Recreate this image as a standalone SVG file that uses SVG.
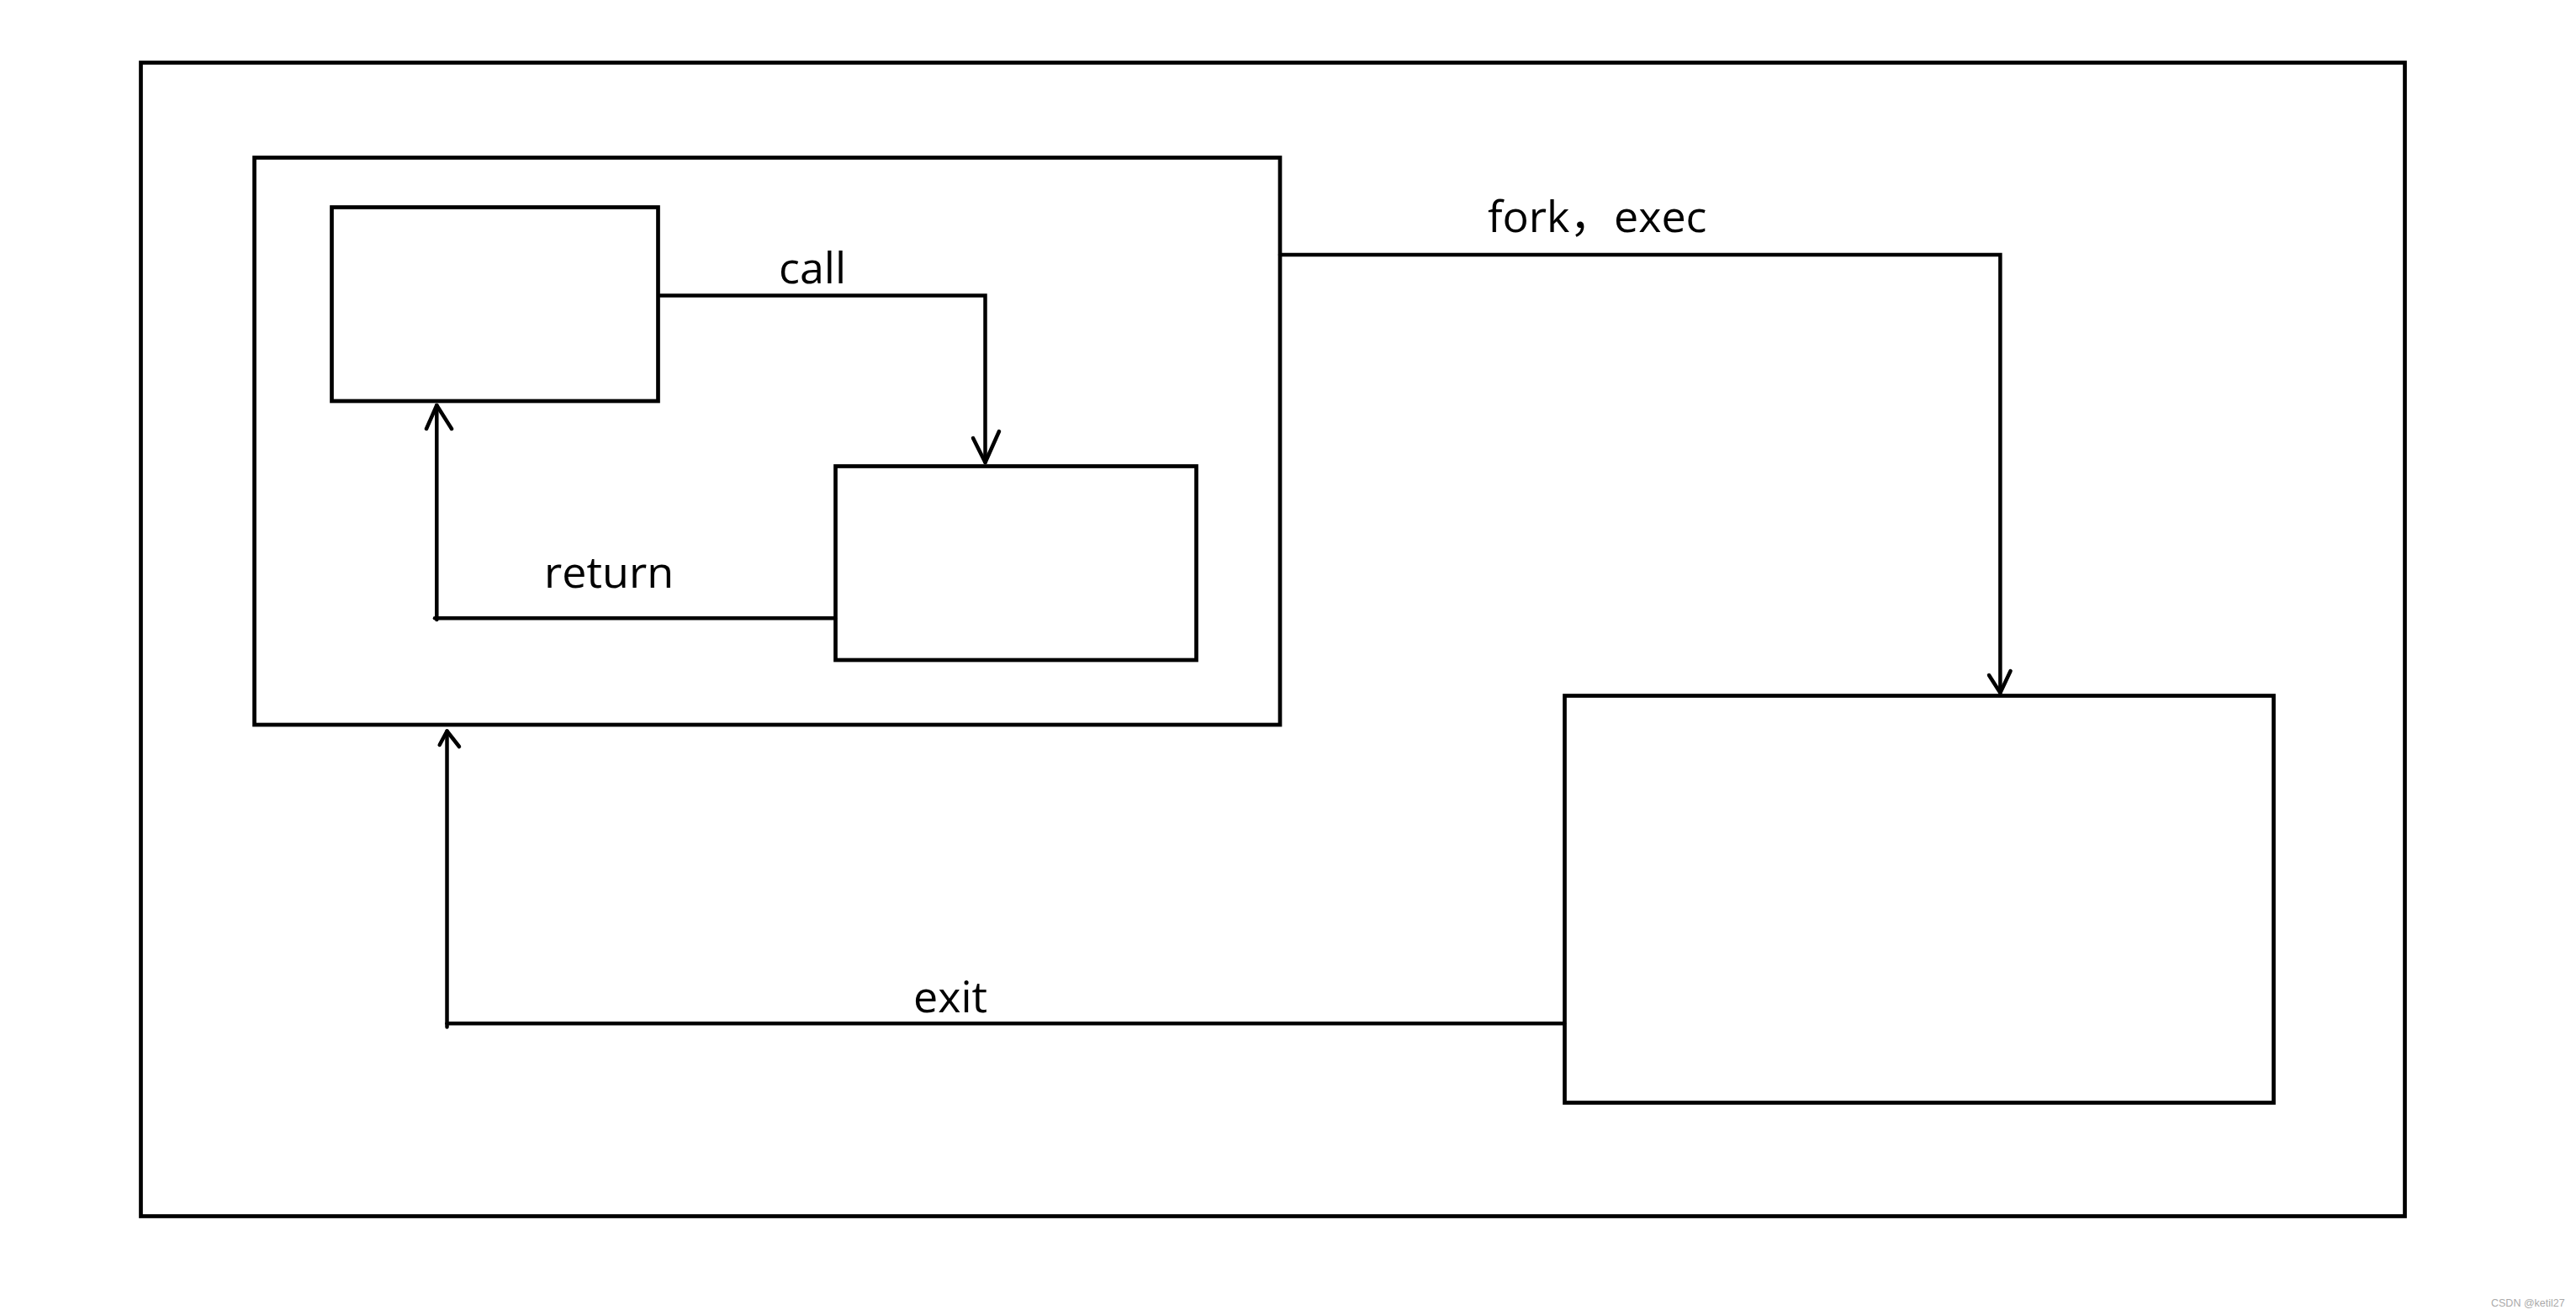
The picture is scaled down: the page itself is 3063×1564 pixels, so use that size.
<svg xmlns="http://www.w3.org/2000/svg" width="3063" height="1564" viewBox="0 0 3063 1564">
<style>
.box{fill:none;stroke:#000;stroke-width:4.7}
.ln{fill:none;stroke:#000;stroke-width:4.5;stroke-linecap:round;stroke-linejoin:miter}
.hd{fill:none;stroke:#000;stroke-width:4.5;stroke-linecap:round;stroke-linejoin:round}
.lbl{font-family:"Open Sans","Noto Sans CJK SC",sans-serif;font-size:52px;fill:#000}
.wm{font-family:"Liberation Sans",Arial,sans-serif;font-size:12.5px;fill:#aaa}
</style>
<rect x="0" y="0" width="3063" height="1564" fill="#fff"/>
<g id="outer"><rect class="box" x="167.5" y="74.5" width="2692" height="1372"/></g>
<g id="process"><rect class="box" x="302.5" y="187.5" width="1219.5" height="674.5"/></g>
<g id="caller"><rect class="box" x="394.5" y="246.5" width="388" height="230.5"/></g>
<g id="callee"><rect class="box" x="993.5" y="554.5" width="429" height="230.5"/></g>
<g id="child"><rect class="box" x="1860.5" y="827.5" width="843" height="484"/></g>
<g id="connectors">
<polyline class="ln" points="785,351.5 1171.5,351.5 1171.5,550"/>
<polyline class="hd" points="1157,521 1171.5,550 1188,513"/>
<polyline class="ln" points="993,735.3 517,735.3"/>
<line class="ln" x1="519.3" y1="737" x2="519.3" y2="482"/>
<polyline class="hd" points="507,510 519.3,482 537,510"/>
<polyline class="ln" points="1522,303 2378.4,303 2378.4,824"/>
<polyline class="hd" points="2365,803 2378.4,824 2390.6,798"/>
<polyline class="ln" points="1860,1217.3 531.5,1217.3"/>
<line class="ln" x1="531.5" y1="1221.5" x2="531.5" y2="869.5"/>
<polyline class="hd" points="522.7,886 531.5,869.5 546,888"/>
</g>
<g id="labels">
<text class="lbl" x="926" y="337">call</text>
<text class="lbl" x="1769" y="276">fork，<tspan x="1919">exec</tspan></text>
<text class="lbl" x="647" y="699">return</text>
<text class="lbl" x="1086" y="1204">exit</text>
</g>
<text class="wm" x="2962" y="1554">CSDN @ketil27</text>
</svg>
